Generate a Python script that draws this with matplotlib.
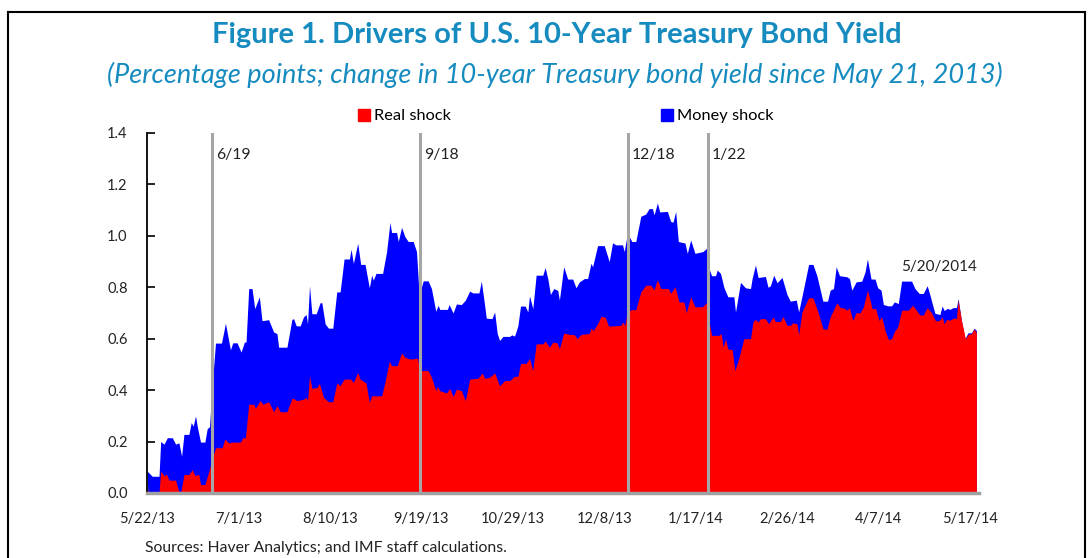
import matplotlib
matplotlib.use('Agg')
import matplotlib.pyplot as plt
from matplotlib.lines import Line2D
from matplotlib.patches import Patch
import numpy as np
import pandas as pd

plt.rcParams['font.family'] = ['Lato', 'DejaVu Sans']

base_date = pd.Timestamp('2013-05-21')

# top of the stack = real shock + money shock (change in 10y yield), days since base_date
total_days = [1.1, 3.3, 6.25, 6.98, 8.43, 9.9, 12.07, 13.52, 14.97, 16.14, 17.15, 19.33, 20.35,
              21.22, 22.24, 22.97, 24.42, 26.31, 27.33, 28.35, 29.51, 30.96, 33.58, 35.32, 37.5,
              38.52, 40.41, 42.16, 43.61, 44.34, 45.5, 46.95, 48.12, 50.15, 51.31, 54.22, 56.4,
              57.86, 58.58, 62.22, 64.4, 65.12, 66.29, 68.03, 69.48, 70.65, 71.23, 72.1, 73.12,
              75.01, 76.75, 77.48, 78.93, 80.39, 82.28, 84.02, 85.48, 87.22, 89.55, 90.27, 91.29,
              93.18, 94.49, 96.38, 98.27, 99.29, 100.01, 101.18, 104.08, 105.83, 107.28, 108.01,
              110.19, 110.92, 112.37, 113.82, 115.28, 117.46, 118.91, 120.07, 121.82, 124.0,
              125.45, 127.34, 128.36, 129.09, 132.43, 133.16, 134.9, 136.36, 138.54, 140.28,
              142.17, 143.63, 146.24, 147.26, 148.72, 149.44, 151.91, 153.08, 154.24, 155.26,
              156.71, 159.62, 160.64, 161.8, 163.25, 164.42, 166.45, 167.61, 168.34, 169.79,
              171.25, 174.15, 175.17, 176.34, 177.5, 178.95, 180.7, 181.42, 183.31, 185.06,
              187.24, 188.69, 190.15, 192.33, 193.77, 195.23, 195.95, 198.14, 201.04, 203.22,
              204.68, 206.13, 209.04, 209.77, 211.22, 213.11, 214.85, 217.03, 219.21, 220.67,
              222.12, 222.85, 224.3, 225.32, 228.66, 230.12, 231.13, 232.3, 233.46, 236.37,
              237.39, 238.84, 240.73, 244.22, 246.11, 246.83, 248.0, 249.74, 250.47, 251.92,
              253.38, 255.12, 257.74, 258.47, 260.65, 262.83, 265.01, 265.74, 267.19, 268.35,
              271.55, 272.71, 273.73, 275.19, 276.64, 278.82, 281.0, 282.45, 285.07, 286.09,
              288.27, 290.45, 292.34, 294.08, 296.7, 298.73, 299.9, 301.35, 302.51, 303.97,
              307.17, 308.33, 309.35, 311.24, 313.71, 315.16, 316.18, 317.77, 319.52, 320.68,
              322.14, 323.15, 325.04, 326.79, 327.95, 329.69, 331.15, 335.51, 336.96, 338.85,
              340.6, 342.34, 343.5, 345.69, 347.87, 348.88, 349.75, 351.21, 352.23, 353.68,
              355.13, 355.86, 357.32, 358.77, 360.22, 361.68, 362.84, 363.86]
total_change = [0.085, 0.065, 0.065, 0.20, 0.19, 0.215, 0.215, 0.19, 0.195, 0.143, 0.228, 0.228,
                0.274, 0.26, 0.30, 0.26, 0.198, 0.198, 0.25, 0.258, 0.417, 0.583, 0.583, 0.66,
                0.557, 0.584, 0.584, 0.548, 0.587, 0.587, 0.795, 0.795, 0.717, 0.763, 0.67, 0.674,
                0.626, 0.62, 0.567, 0.567, 0.675, 0.678, 0.65, 0.65, 0.685, 0.694, 0.658, 0.806,
                0.697, 0.697, 0.74, 0.74, 0.658, 0.641, 0.641, 0.782, 0.782, 0.91, 0.91, 0.948,
                0.893, 0.971, 0.889, 0.889, 0.798, 0.847, 0.828, 0.854, 0.854, 0.939, 1.052, 1.013,
                1.013, 0.978, 1.033, 0.997, 0.978, 0.978, 0.939, 0.769, 0.825, 0.825, 0.795, 0.707,
                0.73, 0.714, 0.714, 0.733, 0.70, 0.735, 0.733, 0.75, 0.785, 0.778, 0.778, 0.824,
                0.73, 0.68, 0.678, 0.704, 0.62, 0.593, 0.609, 0.609, 0.615, 0.61, 0.65, 0.727,
                0.727, 0.704, 0.767, 0.717, 0.847, 0.847, 0.877, 0.834, 0.772, 0.795, 0.788, 0.75,
                0.88, 0.832, 0.832, 0.798, 0.821, 0.834, 0.834, 0.893, 0.88, 0.962, 0.962, 0.90,
                0.973, 0.965, 0.965, 0.939, 1.01, 0.978, 0.978, 1.076, 1.085, 1.106, 1.106, 1.082,
                1.128, 1.093, 1.095, 1.056, 1.053, 1.095, 0.978, 0.972, 0.932, 0.984, 0.932, 0.939,
                0.954, 0.874, 0.845, 0.845, 0.867, 0.854, 0.80, 0.763, 0.763, 0.704, 0.819, 0.798,
                0.795, 0.834, 0.887, 0.838, 0.842, 0.80, 0.806, 0.847, 0.818, 0.838, 0.772, 0.746,
                0.75, 0.704, 0.795, 0.889, 0.889, 0.845, 0.746, 0.746, 0.789, 0.795, 0.88, 0.845,
                0.841, 0.834, 0.789, 0.821, 0.824, 0.86, 0.91, 0.832, 0.832, 0.798, 0.789, 0.733,
                0.728, 0.728, 0.743, 0.737, 0.824, 0.824, 0.795, 0.776, 0.776, 0.806, 0.771, 0.699,
                0.694, 0.727, 0.71, 0.718, 0.714, 0.721, 0.721, 0.756, 0.671, 0.60, 0.623, 0.623,
                0.641, 0.632]

real_days = [1.1, 1.89, 6.25, 6.98, 8.43, 9.59, 10.61, 13.52, 14.68, 15.7, 17.15, 19.33, 20.79,
             21.95, 23.7, 24.42, 26.31, 28.06, 29.51, 30.96, 33.87, 35.03, 36.78, 38.23, 41.87,
             42.88, 44.05, 45.5, 47.68, 48.41, 50.59, 51.61, 54.22, 56.4, 57.86, 59.31, 62.22,
             64.4, 65.12, 66.58, 69.48, 70.65, 71.23, 72.1, 73.12, 75.3, 76.46, 78.21, 80.39,
             82.28, 84.02, 85.48, 87.22, 90.13, 91.29, 93.18, 94.2, 96.81, 98.27, 99.29, 103.65,
             105.1, 106.99, 108.01, 110.48, 112.37, 113.82, 116.0, 119.35, 120.36, 124.0, 125.45,
             127.34, 128.07, 129.09, 132.0, 133.45, 134.9, 136.36, 138.54, 140.28, 142.17,
             145.81, 147.7, 148.72, 150.9, 153.08, 155.26, 157.44, 159.62, 161.8, 163.25, 164.42,
             166.89, 168.34, 169.79, 171.25, 174.15, 175.17, 177.06, 178.52, 180.41, 181.42,
             183.31, 185.78, 187.96, 189.13, 190.87, 194.5, 195.23, 196.25, 198.14, 199.59,
             201.48, 202.93, 208.31, 209.04, 210.06, 211.22, 213.11, 214.85, 217.03, 219.21,
             221.4, 222.85, 224.3, 225.76, 229.1, 230.12, 232.01, 233.75, 235.93, 236.95, 238.84,
             240.73, 243.93, 246.11, 246.83, 248.0, 251.2, 252.21, 253.09, 254.1, 255.12, 257.01,
             258.18, 259.92, 262.1, 265.01, 266.17, 267.19, 268.35, 269.37, 271.55, 273.0,
             274.89, 275.91, 278.09, 279.26, 281.0, 282.45, 283.47, 285.36, 286.09, 287.54,
             290.45, 292.34, 294.81, 296.7, 298.45, 299.9, 302.81, 304.26, 305.8, 307.17, 308.33,
             309.78, 311.24, 312.98, 314.44, 316.18, 317.5, 318.2, 319.81, 321.26, 322.43,
             323.88, 325.33, 326.79, 327.95, 329.4, 331.15, 334.06, 335.95, 337.25, 339.14,
             340.6, 342.34, 344.23, 345.98, 347.87, 348.88, 349.75, 350.77, 352.23, 353.68,
             355.13, 355.86, 357.32, 359.06, 360.22, 361.68, 362.84, 363.86]
real_shock = [0.016, 0.0, 0.0, 0.085, 0.068, 0.072, 0.05, 0.05, 0.013, 0.0, 0.072, 0.072, 0.091,
              0.068, 0.072, 0.033, 0.033, 0.085, 0.133, 0.176, 0.176, 0.21, 0.195, 0.198, 0.198,
              0.215, 0.215, 0.345, 0.345, 0.33, 0.36, 0.345, 0.355, 0.316, 0.34, 0.316, 0.316,
              0.368, 0.368, 0.359, 0.365, 0.372, 0.359, 0.456, 0.407, 0.41, 0.426, 0.372, 0.355,
              0.355, 0.428, 0.417, 0.443, 0.443, 0.43, 0.469, 0.443, 0.428, 0.352, 0.378, 0.378,
              0.43, 0.512, 0.495, 0.495, 0.545, 0.528, 0.521, 0.524, 0.476, 0.476, 0.45, 0.398,
              0.415, 0.398, 0.389, 0.407, 0.375, 0.404, 0.398, 0.359, 0.443, 0.446, 0.467, 0.446,
              0.45, 0.467, 0.417, 0.437, 0.437, 0.454, 0.454, 0.504, 0.504, 0.524, 0.476, 0.58,
              0.58, 0.591, 0.567, 0.587, 0.584, 0.561, 0.622, 0.617, 0.616, 0.60, 0.617, 0.62,
              0.641, 0.632, 0.658, 0.687, 0.684, 0.649, 0.652, 0.665, 0.652, 0.708, 0.713, 0.713,
              0.782, 0.808, 0.808, 0.791, 0.83, 0.795, 0.795, 0.776, 0.802, 0.743, 0.743, 0.701,
              0.763, 0.724, 0.724, 0.743, 0.67, 0.613, 0.613, 0.62, 0.567, 0.60, 0.56, 0.558,
              0.476, 0.524, 0.60, 0.60, 0.667, 0.675, 0.665, 0.678, 0.678, 0.658, 0.685, 0.667,
              0.667, 0.687, 0.652, 0.652, 0.662, 0.658, 0.615, 0.704, 0.759, 0.759, 0.697, 0.639,
              0.636, 0.685, 0.74, 0.721, 0.72, 0.711, 0.72, 0.671, 0.701, 0.701, 0.724, 0.789,
              0.745, 0.717, 0.717, 0.671, 0.685, 0.632, 0.597, 0.60, 0.628, 0.645, 0.711, 0.711,
              0.73, 0.715, 0.692, 0.692, 0.721, 0.701, 0.669, 0.672, 0.685, 0.658, 0.675, 0.672,
              0.68, 0.68, 0.75, 0.671, 0.60, 0.617, 0.62, 0.639, 0.623]

event_labels = ['6/19', '9/18', '12/18', '1/22']
event_dates = ['2013-06-19', '2013-09-18', '2013-12-18', '2014-01-22']
tick_days = list(range(1, 362, 40))
last_label = '5/20/2014'

title_color = '#168BBF'

fig = plt.figure(figsize=(10.88, 5.58), dpi=100)
ax = fig.add_axes([147 / 1088, 1 - 493 / 558, 832 / 1088, 360 / 558])

ax.fill_between(total_days, 0, total_change, color='#0000FF', lw=0, zorder=1)
ax.fill_between(real_days, 0, real_shock, color='#FF0000', lw=0, zorder=2)

for lab, d in zip(event_labels, event_dates):
    x = (pd.Timestamp(d) - base_date).days + 0.5
    ax.axvline(x, color='#A6A6A6', lw=2.2, zorder=3)
    ax.text(x + 1.6, 1.315, lab, fontsize=11.3, va='center', ha='left', color='#222222')

ax.text(364, 0.88, last_label, fontsize=11, va='center', ha='right', color='#222222')

ax.set_xlim(1, 365)
ax.set_ylim(0, 1.4)
ax.set_yticks(np.arange(0, 1.41, 0.2))
ax.set_yticklabels([f'{v:.1f}' for v in np.arange(0, 1.41, 0.2)])
ax.set_xticks(tick_days)
ax.set_xticklabels([f'{t.month}/{t.day}/{t:%y}' for t in
                    (base_date + pd.Timedelta(days=d) for d in tick_days)])

for s in ['top', 'right']:
    ax.spines[s].set_visible(False)
ax.spines['left'].set_color('black')
ax.spines['left'].set_linewidth(1.3)
ax.spines['bottom'].set_color('#A0A0A0')
ax.spines['bottom'].set_linewidth(2.5)
ax.spines['bottom'].set_zorder(4)

ax.tick_params(axis='y', direction='in', length=6, width=1.2, color='black',
               labelsize=10.5, pad=14, labelcolor='#222222')
ax.tick_params(axis='x', direction='in', length=5, width=1, color='#A0A0A0',
               labelsize=10.5, pad=14, labelcolor='#222222')

handles = [Patch(color='#FF0000', label='Real shock'), Patch(color='#0000FF', label='Money shock')]
fig.legend(handles=handles, loc='center', bbox_to_anchor=(566 / 1088, 1 - 116 / 558), ncol=2,
           frameon=False, fontsize=11.8, handlelength=0.75, handleheight=0.75,
           handletextpad=0.25, columnspacing=12.8, borderpad=0)

fig.text(557 / 1088, 1 - 35 / 558, 'Figure 1. Drivers of U.S. 10-Year Treasury Bond Yield',
         ha='center', va='center', fontsize=21, fontweight='bold', color=title_color)
fig.text(555 / 1088, 1 - 75 / 558,
         '(Percentage points; change in 10-year Treasury bond yield since May 21, 2013)',
         ha='center', va='center', fontsize=19.5, style='italic', color=title_color)
fig.text(145 / 1088, 1 - 548 / 558, 'Sources: Haver Analytics; and IMF staff calculations.',
         ha='left', va='center', fontsize=11.3, color='#222222')

# frame around the figure (open at the bottom)
x0, x1, yt = 8 / 1088, 1085 / 1088, 1 - 12 / 558
for xs, ys in [([x0, x1], [yt, yt]), ([x0, x0], [yt, 0]), ([x1, x1], [yt, 0])]:
    fig.add_artist(Line2D(xs, ys, color='black', lw=1.5, transform=fig.transFigure))

fig.savefig('out.png', dpi=100)
